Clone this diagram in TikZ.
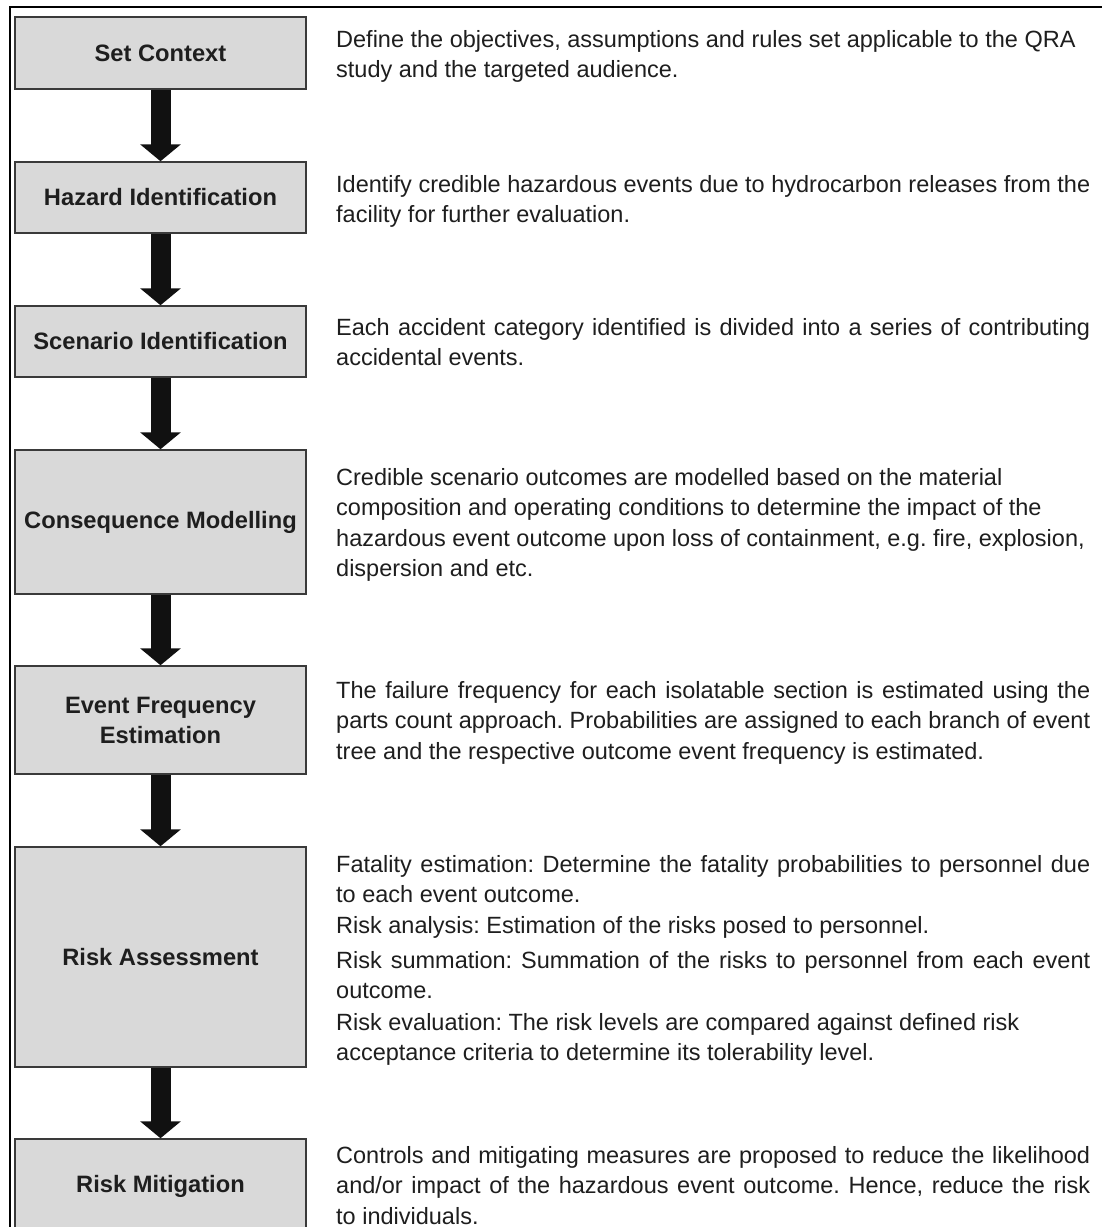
\documentclass[tikz,border=0pt]{standalone}
\usepackage{fontspec}
\setmainfont{Liberation Sans}
\usetikzlibrary{arrows.meta}
\definecolor{boxfill}{HTML}{D9D9D9}
\definecolor{boxline}{HTML}{3A3A3A}
\definecolor{txt}{HTML}{1E1E1E}
\definecolor{arr}{HTML}{111111}
\newcommand{\jline}[1]{\makebox[\linewidth][s]{#1}}
\newcommand{\desc}[1]{\begin{minipage}[t]{754pt}\fontsize{23.5}{30.5}\selectfont\frenchspacing\raggedright #1\end{minipage}}
\begin{document}
\begin{tikzpicture}[x=1pt,y=-1pt,
  stepbox/.style={draw=boxline, line width=1.5pt, fill=boxfill, minimum width=291pt,
    inner sep=0pt, align=center, font=\fontsize{23.7}{30}\selectfont\bfseries, text=txt},
  desctext/.style={anchor=base west, inner sep=0pt, text=txt},
  flow/.style={line width=20pt, draw=arr, -{Triangle[length=17pt,width=40pt]}}]
\useasboundingbox (0,0) rectangle (1102,1227);
\fill[white] (0,0) rectangle (1102,1227);
% frame
\draw[line width=2pt, black] (1115,7) -- (10,7) -- (10,1240);
% boxes
\node[stepbox, minimum height=72pt]  (b1) at (160.5,53)    {Set Context};
\node[stepbox, minimum height=71pt]  (b2) at (160.5,197.5) {Hazard Identification};
\node[stepbox, minimum height=71pt]  (b3) at (160.5,341.5) {Scenario Identification};
\node[stepbox, minimum height=144pt] (b4) at (160.5,522)   {Consequence Modelling};
\node[stepbox, minimum height=108pt] (b5) at (160.5,720)   {Event Frequency\\Estimation};
\node[stepbox, minimum height=220pt] (b6) at (160.5,957)   {Risk Assessment};
\node[stepbox, minimum height=94pt]  (b7) at (160.5,1186)  {Risk Mitigation};
% arrows
\draw[flow] (b1.south) -- (b2.north);
\draw[flow] (b2.south) -- (b3.north);
\draw[flow] (b3.south) -- (b4.north);
\draw[flow] (b4.south) -- (b5.north);
\draw[flow] (b5.south) -- (b6.north);
\draw[flow] (b6.south) -- (b7.north);
% descriptions
\node[desctext] (t1) at (336,47) {\desc{%
Define the objectives, assumptions and rules set applicable to the QRA\\
study and the targeted audience.}};
\node[desctext] (t2) at (336,192) {\desc{%
\jline{Identify credible hazardous events due to hydrocarbon releases from the}\\
facility for further evaluation.}};
\node[desctext] (t3) at (336,335) {\desc{%
\jline{Each accident category identified is divided into a series of contributing}\\
accidental events.}};
\node[desctext] (t4) at (336,485) {\desc{%
Credible scenario outcomes are modelled based on the material\\
composition and operating conditions to determine the impact of the\\
hazardous event outcome upon loss of containment, e.g. fire, explosion,\\
dispersion and etc.}};
\node[desctext] (t5) at (336,698) {\desc{%
\jline{The failure frequency for each isolatable section is estimated using the}\\
\jline{parts count approach. Probabilities are assigned to each branch of event}\\
tree and the respective outcome event frequency is estimated.}};
\node[desctext] (t6) at (336,872) {\desc{%
\jline{Fatality estimation: Determine the fatality probabilities to personnel due}\\
to each event outcome.\\
Risk analysis: Estimation of the risks posed to personnel.\\[4.5pt]
\jline{Risk summation: Summation of the risks to personnel from each event}\\
outcome.\\[1pt]
Risk evaluation: The risk levels are compared against defined risk\\
acceptance criteria to determine its tolerability level.}};
\node[desctext] (t7) at (336,1163) {\desc{%
\jline{Controls and mitigating measures are proposed to reduce the likelihood}\\
\jline{and/or impact of the hazardous event outcome. Hence, reduce the risk}\\
to individuals.}};
\end{tikzpicture}
\end{document}
